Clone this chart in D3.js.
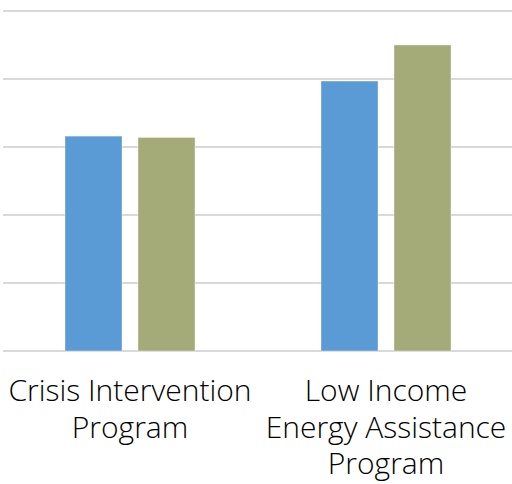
<!DOCTYPE html>
<html>
<head>
<meta charset="utf-8">
<script src="https://cdn.jsdelivr.net/npm/d3@7"></script>
<style>
  html, body { margin: 0; padding: 0; background: #fff; }
  svg { display: block; }
</style>
</head>
<body>
<svg id="chart" width="512" height="484"></svg>
<script>
const categories = [["Crisis Intervention", "Program"], ["Low Income", "Energy Assistance", "Program"]];
const categoryKeys = ["Crisis Intervention Program", "Low Income Energy Assistance Program"];
const seriesNames = ["Series 1", "Series 2"];
const series1 = [31.6, 39.7];
const series2 = [31.4, 45.0];
const yTicks = [0, 10, 20, 30, 40, 50];
const colors = ["#5B9BD5", "#A5AB78"];

const svg = d3.select("#chart");
const W = 512, H = 484;
const plot = { left: 2, right: 514, top: 11, bottom: 351 };

const y = d3.scaleLinear().domain([0, 50]).range([plot.bottom, plot.top]);
const x0 = d3.scaleBand().domain(categoryKeys).range([plot.left, plot.right]).paddingInner(0).paddingOuter(0);
const x1 = d3.scaleBand().domain(seriesNames).range([0, x0.bandwidth()]).paddingInner(16/73).paddingOuter((256-130)/2/73);

// gridlines
svg.append("g").selectAll("line").data(yTicks).join("line")
  .attr("x1", 3).attr("x2", W)
  .attr("y1", d => y(d)).attr("y2", d => y(d))
  .attr("stroke", "#D9D9D9").attr("stroke-width", 2);

const data = categoryKeys.map((k, i) => ({ key: k, values: [series1[i], series2[i]] }));

const g = svg.append("g").selectAll("g").data(data).join("g")
  .attr("transform", d => `translate(${x0(d.key)},0)`);

g.selectAll("rect").data(d => d.values.map((v, j) => ({ name: seriesNames[j], v, j })))
  .join("rect")
  .attr("x", d => x1(d.name))
  .attr("width", x1.bandwidth())
  .attr("y", d => y(d.v))
  .attr("height", d => y(0) - y(d.v))
  .attr("fill", d => colors[d.j])
  .attr("stroke", "rgba(255,255,255,0.35)")
  .attr("stroke-width", 1);

// category labels
const labels = svg.append("g").selectAll("text").data(categoryKeys).join("text")
  .attr("x", d => x0(d) + x0.bandwidth() / 2)
  .attr("y", 401)
  .attr("text-anchor", "middle")
  .attr("font-family", "'Open Sans', 'Noto Sans', sans-serif")
  .attr("font-weight", 300)
  .attr("font-size", 30)
  .attr("fill", "#000");

labels.each(function(d, i) {
  d3.select(this).selectAll("tspan").data(categories[i]).join("tspan")
    .attr("x", x0(d) + x0.bandwidth() / 2)
    .attr("dy", (t, k) => k === 0 ? 0 : 36.5)
    .text(t => t);
});
</script>
</body>
</html>
